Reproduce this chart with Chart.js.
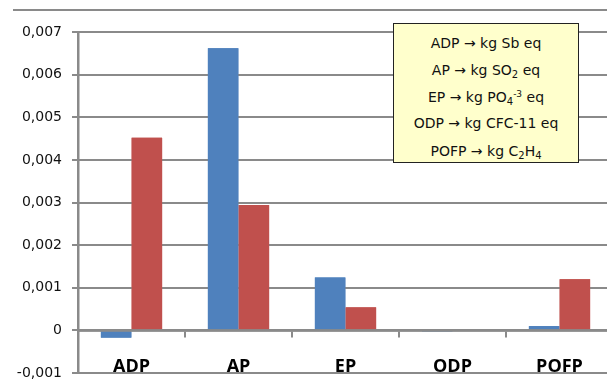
<!DOCTYPE html>
<html>
<head>
<meta charset="utf-8">
<script src="https://cdn.jsdelivr.net/npm/chart.js@4/dist/chart.umd.min.js"></script>
<style>
  html, body { margin: 0; padding: 0; background: #fff; overflow: hidden; width: 607px; height: 390px; }
  #wrap { position: relative; width: 615px; height: 390px; }
  #c { display: block; }
  #note {
    position: absolute; left: 393px; top: 23px; width: 184px; height: 138px;
    background: #FFFFCC; border: 1.5px solid #222; box-sizing: content-box;
    font-family: "DejaVu Sans", sans-serif; font-size: 14px; color: #111;
    text-align: center;
  }
  #note div { position: absolute; left: 0; right: 0; line-height: 16px; white-space: nowrap; }
  #note sub { font-size: 10px; vertical-align: -3px; line-height: 0; }
  #note sup { font-size: 9px; vertical-align: 5px; line-height: 0; }
</style>
</head>
<body>
<div id="wrap">
  <canvas id="c" width="615" height="390"></canvas>
  <div id="note">
    <div style="top:11px">ADP → kg Sb eq</div>
    <div style="top:38px">AP → kg SO<sub>2</sub> eq</div>
    <div style="top:65px">EP → kg PO<sub>4</sub><sup>-3</sup> eq</div>
    <div style="top:91px">ODP → kg CFC-11 eq</div>
    <div style="top:119px">POFP → kg C<sub>2</sub>H<sub>4</sub></div>
  </div>
</div>
<script>
const categories = ['ADP', 'AP', 'EP', 'ODP', 'POFP'];
const seriesBlue = [-0.00017, 0.00662, 0.00124, -0.00003, 0.00010];
const seriesRed  = [0.00452, 0.00294, 0.00054, 0.0, 0.00120];
const yMin = -0.001, yMax = 0.007, yStep = 0.001;

const GRAY = '#8a8a8a';

// Frame line, horizontal grid lines from the y scale's ticks, then bars redrawn on top
const frameAndGrid = {
  id: 'frameAndGrid',
  afterDraw(chart) {
    const ctx = chart.ctx;
    const ys = chart.scales.y;
    const area = chart.chartArea;
    ctx.save();
    ctx.globalCompositeOperation = 'source-over';
    ctx.strokeStyle = GRAY;
    ctx.lineWidth = 2;
    ctx.setLineDash([]);
    ys.ticks.forEach(t => {
      const py = Math.round(ys.getPixelForValue(t.value));
      ctx.beginPath();
      ctx.moveTo(area.left, py);
      ctx.lineTo(area.right, py);
      ctx.stroke();
    });
    ctx.beginPath();
    ctx.moveTo(13, 10);
    ctx.lineTo(chart.width, 10);
    ctx.stroke();
    ctx.restore();
    // bars back on top of the grid lines
    ctx.save();
    ctx.beginPath();
    ctx.rect(area.left, area.top, area.right - area.left, area.bottom - area.top);
    ctx.clip();
    for (let i = 0; i < chart.data.datasets.length; i++) {
      const meta = chart.getDatasetMeta(i);
      meta.data.forEach(el => el.draw(ctx));
    }
    ctx.restore();
    // zero line (x axis) on top
    const y0 = ys.getPixelForValue(0);
    ctx.save();
    ctx.strokeStyle = GRAY;
    ctx.lineWidth = 2.5;
    ctx.beginPath();
    ctx.moveTo(area.left, y0);
    ctx.lineTo(area.right, y0);
    ctx.stroke();
    ctx.restore();
  }
};

new Chart(document.getElementById('c'), {
  type: 'bar',
  data: {
    labels: categories,
    datasets: [
      { label: 'A', data: seriesBlue, backgroundColor: '#4F81BD', categoryPercentage: 0.575, barPercentage: 0.99 },
      { label: 'B', data: seriesRed, backgroundColor: '#C0504D', categoryPercentage: 0.575, barPercentage: 0.99 }
    ]
  },
  options: {
    responsive: false,
    animation: false,
    layout: { padding: { left: 8, right: 2, top: 32, bottom: 7.5 } },
    plugins: { legend: { display: false } },
    scales: {
      x: {
        position: { y: 0 },
        grid: { drawOnChartArea: false, tickLength: 6, color: GRAY, lineWidth: 2 },
        border: { color: GRAY, width: 2.5 },
        ticks: {
          color: '#000', padding: 20,
          font: { family: '"Open Sans", sans-serif', size: 18, weight: 'bold' }
        }
      },
      y: {
        min: yMin, max: yMax,
        afterFit(scale) { scale.width = 70; },
        grid: { drawOnChartArea: false, color: GRAY, lineWidth: 2, tickLength: 6 },
        border: { color: GRAY, width: 2.5 },
        ticks: {
          stepSize: yStep, padding: 10, color: '#111',
          font: { family: '"DejaVu Sans", sans-serif', size: 14, lineHeight: 1 },
          callback(v) {
            const r = Math.round(v * 1000) / 1000;
            if (r === 0) return '0';
            return r.toFixed(3).replace('.', ',');
          }
        }
      }
    }
  },
  plugins: [frameAndGrid]
});
</script>
</body>
</html>
